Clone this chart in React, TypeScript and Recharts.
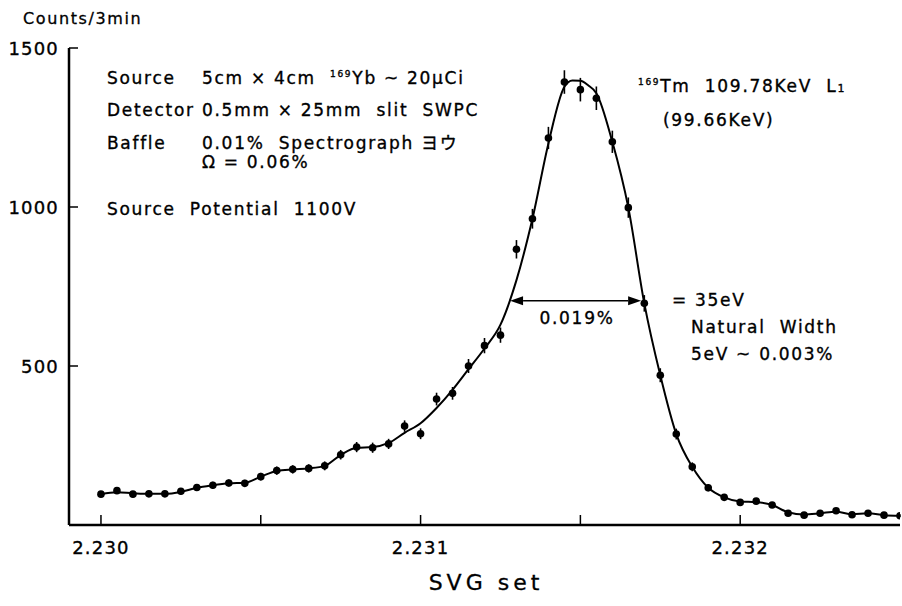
import React from 'react';
import { ComposedChart, Line, Scatter, ErrorBar, XAxis, YAxis, ReferenceLine } from 'recharts';

// SVG set values (x) of the measured points
const svgSet = [
  2.23, 2.23005, 2.2301, 2.23015, 2.2302, 2.23025, 2.2303, 2.23035, 2.2304, 2.23045,
  2.2305, 2.23055, 2.2306, 2.23065, 2.2307, 2.23075, 2.2308, 2.23085, 2.2309, 2.23095,
  2.231, 2.23105, 2.2311, 2.23115, 2.2312, 2.23125, 2.2313, 2.23135, 2.2314, 2.23145,
  2.2315, 2.23155, 2.2316, 2.23165, 2.2317, 2.23175, 2.2318, 2.23185, 2.2319, 2.23195,
  2.232, 2.23205, 2.2321, 2.23215, 2.2322, 2.23225, 2.2323, 2.23235, 2.2324, 2.23245,
  2.2325,
];
// Counts / 3min
const counts = [
  97, 108, 97, 98, 98, 106, 118, 125, 132, 131,
  152, 171, 175, 178, 186, 221, 245, 243, 255, 311,
  287, 396, 414, 500, 564, 597, 867, 963, 1217, 1393,
  1369, 1342, 1205, 998, 697, 471, 286, 183, 117, 87,
  71, 75, 63, 37, 31, 37, 45, 32, 37, 31,
  29,
];
// statistical errors
const countErrors = [
  10, 10, 10, 10, 10, 10, 11, 11, 11, 11,
  12, 13, 13, 13, 14, 15, 16, 16, 16, 18,
  17, 20, 20, 22, 24, 24, 29, 31, 35, 37,
  37, 37, 35, 32, 26, 22, 17, 14, 11, 9,
  8, 9, 8, 6, 6, 6, 7, 6, 6, 6,
  5,
];
// fitted curve
const fitSvgSet = [
  2.23, 2.23005, 2.2301, 2.23015, 2.2302, 2.23025, 2.2303, 2.23035, 2.2304, 2.23045,
  2.2305, 2.23055, 2.2306, 2.23065, 2.2307, 2.23075, 2.2308, 2.23085, 2.2309, 2.23095,
  2.231, 2.23105, 2.2311, 2.23115, 2.2312, 2.23125, 2.2313, 2.23135, 2.2314, 2.23145,
  2.231475, 2.2315, 2.231525, 2.23155, 2.2316, 2.23165, 2.2317, 2.23175, 2.2318, 2.23185,
  2.2319, 2.23195, 2.232, 2.23205, 2.2321, 2.23215, 2.2322, 2.23225, 2.2323, 2.23235,
  2.2324, 2.23245, 2.2325,
];
const fitCounts = [
  97, 103, 100, 98, 98, 104, 117, 125, 131, 133,
  152, 170, 175, 178, 186, 220, 243, 245, 258, 290,
  320, 368, 425, 490, 555, 630, 770, 963, 1200, 1378,
  1398, 1397, 1382, 1358, 1205, 998, 697, 471, 286, 183,
  117, 87, 74, 72, 63, 40, 33, 37, 42, 34,
  37, 31, 29,
];
const xTickValues = [2.23, 2.2305, 2.231, 2.2315, 2.232];
const yTickValues = [500, 1000, 1500];
const fwhmFrom = 2.23128;
const fwhmTo = 2.23169;
const halfMax = 705;

const points = svgSet.map((x, i) => ({ x, counts: counts[i], err: countErrors[i] }));
const fit = fitSvgSet.map((x, i) => ({ x, fit: fitCounts[i] }));

const FONT = '"DejaVu Sans", "Noto Sans", sans-serif';
const JP = '"Noto Sans CJK JP", sans-serif';

const XTick = (props: any) => {
  const { x, y, payload } = props;
  const v = Number(payload.value);
  const major = Math.abs(v * 1000 - Math.round(v * 1000)) < 1e-6;
  return (
    <g>
      <line x1={x} x2={x} y1={y} y2={y - 10} stroke="#000" strokeWidth={1.5} />
      {major && (
        <text x={x} y={y + 29} textAnchor="middle" fontFamily={FONT} fontSize={18} letterSpacing={1.2} fill="#000" stroke="#000" strokeWidth={0.35}>
          {v.toFixed(3)}
        </text>
      )}
    </g>
  );
};

const YTick = (props: any) => {
  const { x, y, payload } = props;
  return (
    <g>
      <line x1={x} x2={x + 9} y1={y} y2={y} stroke="#000" strokeWidth={1.5} />
      <text x={x - 10} y={y + 6.5} textAnchor="end" fontFamily={FONT} fontSize={18} letterSpacing={1.2} fill="#000" stroke="#000" strokeWidth={0.35}>
        {payload.value}
      </text>
    </g>
  );
};

const Dot = (p: any) => <circle cx={p.cx} cy={p.cy} r={3.8} fill="#000" />;

const DoubleArrow = (p: any) => {
  const { x1, y1, x2, y2 } = p;
  const L = 13;
  const W = 4.5;
  return (
    <g>
      <line x1={x1 + L} y1={y1} x2={x2 - L} y2={y2} stroke="#000" strokeWidth={1.5} />
      <polygon points={`${x1},${y1} ${x1 + L},${y1 - W} ${x1 + L},${y1 + W}`} fill="#000" />
      <polygon points={`${x2},${y2} ${x2 - L},${y2 - W} ${x2 - L},${y2 + W}`} fill="#000" />
    </g>
  );
};

const txt = {
  fontFamily: FONT,
  fontSize: 17,
  letterSpacing: 1.7,
  fill: '#000',
  stroke: '#000',
  strokeWidth: 0.35,
  whiteSpace: 'pre' as const,
};

export default function App() {
  return (
    <div style={{ position: 'absolute', left: 0, top: 0, width: 902, height: 606, background: '#fff' }}>
      <ComposedChart width={902} height={606} margin={{ top: 48, right: 2, bottom: 41, left: 0 }}>
        <XAxis
          type="number"
          dataKey="x"
          domain={[2.2299, 2.2325]}
          ticks={xTickValues}
          tick={<XTick />}
          tickLine={false}
          tickSize={0}
          tickMargin={0}
          height={40}
          axisLine={{ stroke: '#000', strokeWidth: 2.5 }}
          allowDataOverflow
        />
        <YAxis
          type="number"
          domain={[0, 1500]}
          ticks={yTickValues}
          tick={<YTick />}
          tickLine={false}
          tickSize={0}
          tickMargin={0}
          width={69}
          axisLine={{ stroke: '#000', strokeWidth: 2.5 }}
        />
        <Line
          data={fit}
          dataKey="fit"
          type="monotone"
          dot={false}
          stroke="#000"
          strokeWidth={2}
          isAnimationActive={false}
        />
        <Scatter data={points} dataKey="counts" shape={<Dot />} isAnimationActive={false}>
          <ErrorBar dataKey="err" direction="y" width={0} stroke="#000" strokeWidth={1.6} />
        </Scatter>
        <ReferenceLine
          segment={[{ x: fwhmFrom, y: halfMax }, { x: fwhmTo, y: halfMax }]}
          shape={<DoubleArrow />}
        />
      </ComposedChart>
      <svg width={902} height={606} style={{ position: 'absolute', left: 0, top: 0, pointerEvents: 'none' }}>
        <text x={23} y={24} fontFamily={FONT} fontSize={16} letterSpacing={1.6} fill="#000" stroke="#000" strokeWidth={0.3}>Counts/3min</text>

        <text x={107} y={84} style={txt}>Source</text>
        <text x={202} y={84} style={txt}>
          5cm × 4cm  <tspan fontSize={9} dy={-7}>169</tspan><tspan dy={7}>Yb ~ 20</tspan><tspan>μCi</tspan>
        </text>
        <text x={107} y={116} style={txt}>Detector</text>
        <text x={202} y={116} style={txt}>0.5mm × 25mm  slit  SWPC</text>
        <text x={107} y={149} style={txt}>Baffle</text>
        <text x={202} y={149} style={txt}>
          0.01%  Spectrograph <tspan fontFamily={JP}>ヨウ</tspan>
        </text>
        <text x={202} y={168} style={txt}>Ω = 0.06%</text>
        <text x={107} y={215} style={txt}>Source  Potential  1100V</text>

        <text x={638} y={92} style={txt}>
          <tspan fontSize={9} dy={-7}>169</tspan><tspan dy={7}>Tm  109.78KeV  L</tspan><tspan fontSize={11}>1</tspan>
        </text>
        <text x={663} y={126} style={txt}>(99.66KeV)</text>

        <text x={577} y={324} textAnchor="middle" style={txt}>0.019%</text>
        <text x={672} y={306} style={txt}>= 35eV</text>
        <text x={691} y={333} style={txt}>Natural  Width</text>
        <text x={691} y={360} style={txt}>5eV ~ 0.003%</text>

        <text x={486} y={590} textAnchor="middle" fontFamily={FONT} fontSize={22} letterSpacing={4} fill="#000" stroke="#000" strokeWidth={0.3}>SVG set</text>
      </svg>
    </div>
  );
}
